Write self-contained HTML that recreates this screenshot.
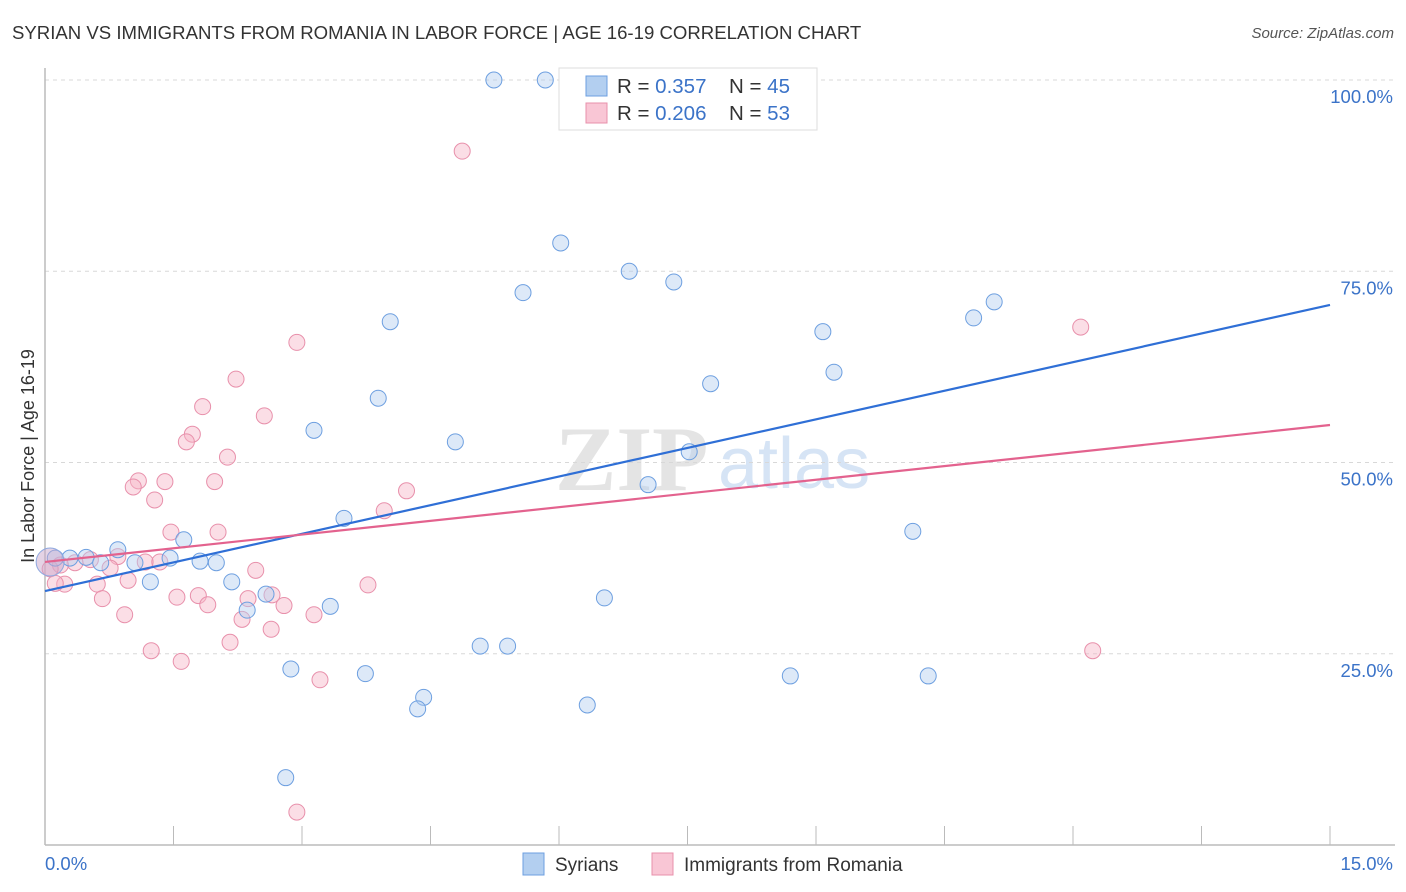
<!DOCTYPE html>
<html><head><meta charset="utf-8"><style>
body{margin:0;background:#fff;font-family:"Liberation Sans",sans-serif;}
#wrap{position:relative;width:1406px;height:892px;overflow:hidden;}
.t{position:absolute;white-space:nowrap;}
</style></head><body>
<div id="wrap">
<div class="t" style="left:12px;top:22px;font-size:18.6px;color:#333;">SYRIAN VS IMMIGRANTS FROM ROMANIA IN LABOR FORCE | AGE 16-19 CORRELATION CHART</div>
<div class="t" style="right:12px;top:25px;font-size:15px;color:#555;font-style:italic;">Source: ZipAtlas.com</div>
<svg id="svg" width="1406" height="892" style="position:absolute;left:0;top:0"></svg>
</div>
<script>
const xTicks=[0,1.5,3,4.5,6,7.5,9,10.5,12,13.5,15];
const yTicks=[25,50,75,100];
const yTickLabels=["25.0%","50.0%","75.0%","100.0%"];
const syrX=[5.24,5.84,6.02,6.82,7.34,5.58,4.03,9.08,10.84,11.08,9.21,7.77,3.89,3.14,4.79,7.52,7.04,10.13,3.49,1.62,0.85,0.48,0.29,0.12,1.46,1.81,2.0,1.05,0.65,1.23,2.18,2.58,6.53,2.36,3.33,2.87,3.74,5.08,5.4,8.7,10.31,4.42,4.35,6.33,2.81];
const syrY=[100,100,78.7,75.0,73.6,72.2,68.4,67.1,68.9,71.0,61.8,60.3,58.4,54.2,52.7,51.4,47.1,41.0,42.7,39.9,38.6,37.6,37.5,37.5,37.5,37.1,36.9,36.9,36.9,34.4,34.4,32.8,32.3,30.7,31.2,23.0,22.4,26.0,26.0,22.1,22.1,19.3,17.8,18.3,8.8];
const romX=[4.87,12.09,2.94,2.23,1.84,2.56,1.72,1.65,2.13,1.09,1.03,1.4,1.98,1.28,4.22,3.96,1.47,2.02,0.85,0.53,0.35,0.18,0.06,0.76,1.17,1.34,2.46,0.97,0.61,0.23,0.12,0.67,1.54,1.79,1.9,2.37,2.65,2.79,0.93,2.3,3.14,3.77,2.64,2.16,1.24,1.59,3.21,12.23,2.94];
const romY=[90.7,67.7,65.7,60.9,57.3,56.1,53.7,52.7,50.7,47.6,46.8,47.5,47.5,45.1,46.3,43.7,40.9,40.9,37.7,37.3,36.9,36.6,36.1,36.2,37.0,37.0,35.9,34.6,34.1,34.1,34.2,32.2,32.4,32.6,31.4,32.2,32.7,31.3,30.1,29.5,30.1,34.0,28.2,26.5,25.4,24.0,21.6,25.4,4.3];
const trendX=[0,15];
const syrTrend=[33.2,70.6];
const romTrend=[37.0,54.9];

const X0=45,X1=1330,Y0=845,Y100=80;
const sx=v=>X0+(v-0)/15*(X1-X0);
const sy=v=>Y0-v/100*(Y0-Y100);
const svg=document.getElementById('svg');
const NS='http://www.w3.org/2000/svg';
function mk(tag,attrs){const e=document.createElementNS(NS,tag);for(const k in attrs)e.setAttribute(k,attrs[k]);svg.appendChild(e);return e;}

let wm=mk('text',{x:555,y:490,'font-size':92,'font-family':'Liberation Serif,serif','font-weight':'bold',fill:'#e4e4e4'});wm.textContent='ZIP';


let wm2=mk('text',{x:718,y:488,'font-size':72,'font-family':'Liberation Sans,sans-serif',fill:'#d6e4f5'});wm2.textContent='atlas';



yTicks.forEach((v,i)=>{
  const g=mk('line',{x1:X0,x2:1395,y1:sy(v),y2:sy(v),stroke:'#d8d8d8','stroke-dasharray':'4,4'});
  
  
  const t=mk('text',{x:1393,y:sy(v)+23,'text-anchor':'end','font-size':18.5,fill:'#3b73c8','font-family':'Liberation Sans,sans-serif'});
  t.textContent=yTickLabels[i];
  
  
});
let ax=mk('line',{x1:X0,x2:1395,y1:Y0,y2:Y0,stroke:'#bbb','stroke-width':1.5});


let ay=mk('line',{x1:X0,x2:X0,y1:68,y2:Y0,stroke:'#bbb','stroke-width':1.5});


xTicks.forEach(v=>{
  const l=mk('line',{x1:sx(v),x2:sx(v),y1:826,y2:Y0,stroke:'#bbb'});
  
  
});
[['0.0%',45,'start'],['15.0%',1393,'end']].forEach(a=>{
  const t=mk('text',{x:a[1],y:870,'text-anchor':a[2],'font-size':18.5,fill:'#3b73c8','font-family':'Liberation Sans,sans-serif'});
  t.textContent=a[0];
  
  
});
let yt=mk('text',{transform:'translate(34,456) rotate(-90)','text-anchor':'middle','font-size':18,fill:'#333','font-family':'Liberation Sans,sans-serif'});
yt.textContent='In Labor Force | Age 16-19';



function pts(xs,ys,fill,stroke,name){
  xs.forEach((x,i)=>{
    const c=mk('circle',{cx:sx(x),cy:sy(ys[i]),r:8,fill:fill,stroke:stroke,'stroke-width':1,'fill-opacity':0.45});
    
    
  });
}
pts(romX,romY,'#f7b6c8','#e890ab','point-romania');
pts(syrX,syrY,'#b3cff0','#6d9fe0','point-syrians');
let big1=mk('circle',{cx:sx(0.06),cy:sy(37),r:14,fill:'#c9a8cc','fill-opacity':0.5,stroke:'#8fa9e0'});



let l1=mk('line',{x1:sx(trendX[0]),y1:sy(syrTrend[0]),x2:sx(trendX[1]),y2:sy(syrTrend[1]),stroke:'#2f6fd6','stroke-width':2.2});


let l2=mk('line',{x1:sx(trendX[0]),y1:sy(romTrend[0]),x2:sx(trendX[1]),y2:sy(romTrend[1]),stroke:'#e3628e','stroke-width':2.2});



let lb=mk('rect',{x:559,y:68,width:258,height:62,fill:'#fff',stroke:'#ddd'});


[[86,'#b3cff0','#6d9fe0','0.357','45'],[113,'#f9c6d5','#e890ab','0.206','53']].forEach(r=>{
  const s=mk('rect',{x:586,y:r[0]-10,width:21,height:20,fill:r[1],stroke:r[2]});
  
  
  const t=mk('text',{x:617,y:r[0]+7,'font-size':20.5,fill:'#333','font-family':'Liberation Sans,sans-serif'});
  t.innerHTML='R = <tspan fill="#3b73c8">'+r[3]+'</tspan><tspan x="729">N = </tspan><tspan fill="#3b73c8">'+r[4]+'</tspan>';
  
  
});
[[523,'#b3cff0','#6d9fe0','Syrians','legend-syrians'],[652,'#f9c6d5','#e890ab','Immigrants from Romania','legend-romania']].forEach(r=>{
  const s=mk('rect',{x:r[0],y:853,width:21,height:22,fill:r[1],stroke:r[2]});
  
  
  const t=mk('text',{x:r[0]+32,y:871,'font-size':19,fill:'#333','font-family':'Liberation Sans,sans-serif'});
  t.textContent=r[3];
  
  
});
</script>
</body></html>
